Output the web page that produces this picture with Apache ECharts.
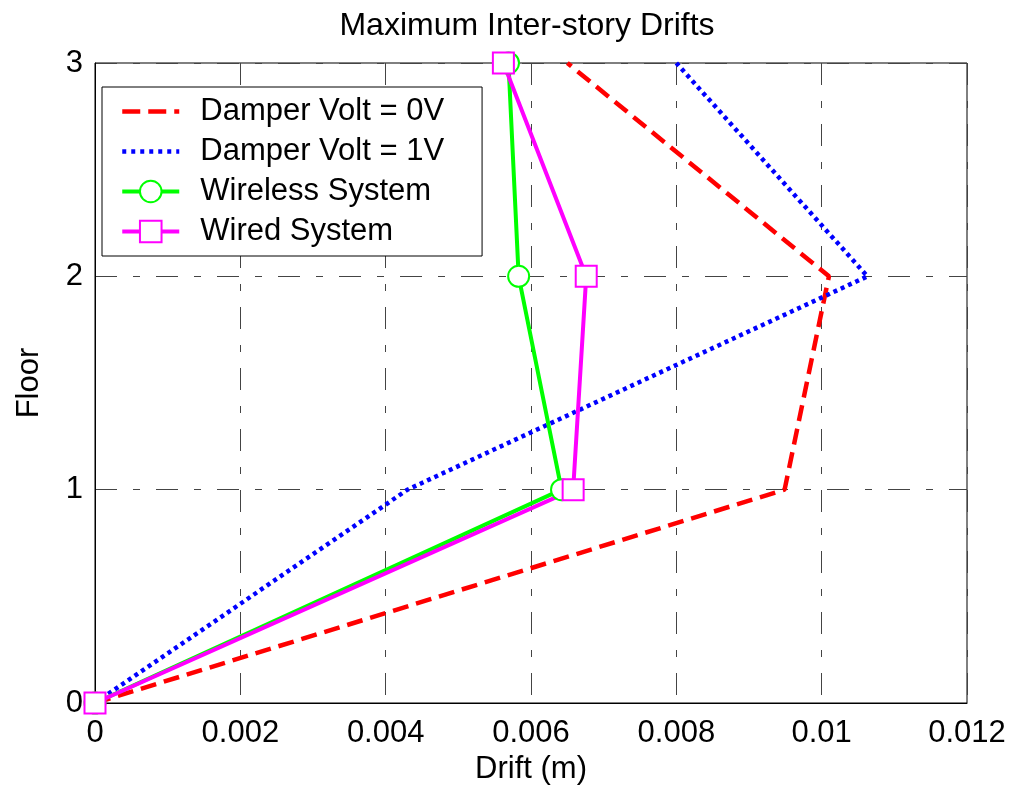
<!DOCTYPE html>
<html>
<head>
  <meta charset="UTF-8">
  <title>Maximum Inter-story Drifts</title>
  <style>
    body { margin: 0; background: #fff; }
    #main { width: 1014px; height: 796px; }
  </style>
</head>
<body>
  <div id="main"></div>
  <script src="https://cdn.jsdelivr.net/npm/echarts@6/dist/echarts.min.js"></script>
  <script>
    // floors (y values) and peak drift per floor (x values)
    const floors = [0, 1, 2, 3];
    const volt0 = [0, 0.00949, 0.0101, 0.0065];
    const volt1 = [0, 0.0043, 0.01063, 0.0080];
    const wireless = [0, 0.00642, 0.00583, 0.00569];
    const wired = [0, 0.00658, 0.00676, 0.00562];
    const xTicks = [0, 0.002, 0.004, 0.006, 0.008, 0.01, 0.012];
    const yTicks = [0, 1, 2, 3];

    const font = 'Liberation Sans';
    const pairs = arr => arr.map((x, i) => [x, floors[i]]);
    const grid = { type: [22, 16, 7, 16], color: '#444', width: 1 };

    const chart = echarts.init(document.getElementById('main'));
    chart.setOption({
      animation: false,
      backgroundColor: '#fff',
      textStyle: { fontFamily: font },
      title: {
        text: 'Maximum Inter-story Drifts',
        left: 522,
        textAlign: 'center',
        top: 5,
        textStyle: { fontFamily: font, fontSize: 32, fontWeight: 'normal', color: '#000' }
      },
      grid: {
        left: 95, right: 47, top: 63, bottom: 93,
        show: true, borderColor: '#000', borderWidth: 1
      },
      legend: {
        orient: 'vertical',
        left: 102, top: 87,
        padding: [9, 38, 9, 18],
        itemWidth: 57, itemHeight: 27, itemGap: 9,
        borderColor: '#000', borderWidth: 1,
        backgroundColor: '#fff',
        textStyle: { fontFamily: font, fontSize: 31, color: '#000', padding: [0, 0, 0, 16] },
        data: [
          { name: 'Damper Volt = 0V', itemStyle: { opacity: 0 }, lineStyle: { width: 4.5, type: [18, 8] } },
          { name: 'Damper Volt = 1V', itemStyle: { opacity: 0 }, lineStyle: { width: 4.5, type: [4, 5] } },
          { name: 'Wireless System', lineStyle: { width: 4 } },
          { name: 'Wired System', lineStyle: { width: 4 } }
        ]
      },
      xAxis: {
        type: 'value',
        min: xTicks[0], max: xTicks[xTicks.length - 1], interval: 0.002,
        name: 'Drift (m)', nameLocation: 'middle', nameGap: 50,
        nameTextStyle: { fontFamily: font, fontSize: 31, color: '#000' },
        axisLine: { show: true, lineStyle: { color: '#000' } },
        axisTick: { show: false },
        axisLabel: { fontFamily: font, fontSize: 31, color: '#000', margin: 15 },
        splitLine: { show: true, lineStyle: grid }
      },
      yAxis: {
        type: 'value',
        min: yTicks[0], max: yTicks[yTicks.length - 1], interval: 1,
        name: 'Floor', nameLocation: 'middle', nameGap: 50, nameRotate: 90,
        nameTextStyle: { fontFamily: font, fontSize: 31, color: '#000' },
        axisLine: { show: true, lineStyle: { color: '#000' } },
        axisTick: { show: false },
        axisLabel: { fontFamily: font, fontSize: 31, color: '#000', margin: 12 },
        splitLine: { show: true, lineStyle: grid }
      },
      series: [
        {
          name: 'Damper Volt = 0V', type: 'line', data: pairs(volt0),
          symbol: 'none', clip: false,
          itemStyle: { color: '#ff0000' },
          lineStyle: { color: '#ff0000', width: 4.5, type: [16, 8] }
        },
        {
          name: 'Damper Volt = 1V', type: 'line', data: pairs(volt1),
          symbol: 'none', clip: false,
          itemStyle: { color: '#0000ff' },
          lineStyle: { color: '#0000ff', width: 4.5, type: [4, 4] }
        },
        {
          name: 'Wireless System', type: 'line', data: pairs(wireless),
          symbol: 'emptyCircle', symbolSize: 21, clip: false,
          itemStyle: { color: '#00ff00', borderColor: '#00ff00', borderWidth: 3.5 },
          lineStyle: { color: '#00ff00', width: 4 }
        },
        {
          name: 'Wired System', type: 'line', data: pairs(wired),
          symbol: 'emptyRect', symbolSize: 21, clip: false,
          itemStyle: { color: '#ff00ff', borderColor: '#ff00ff', borderWidth: 3.5 },
          lineStyle: { color: '#ff00ff', width: 4 }
        }
      ]
    });
  </script>
</body>
</html>
